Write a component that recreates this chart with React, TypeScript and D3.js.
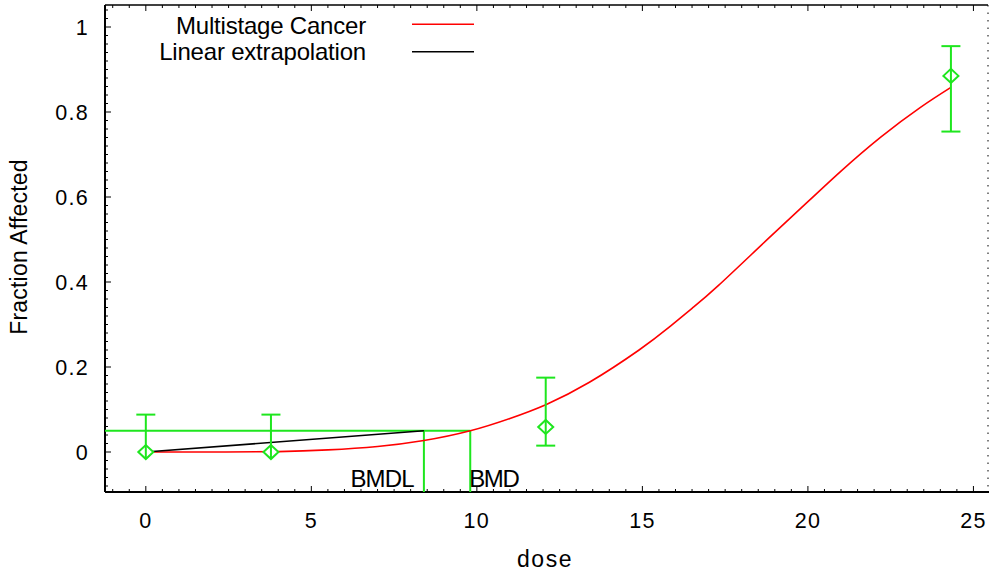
import React from "react";
import * as d3 from "d3";

// Observed data (dose, fraction affected, error bar bounds)
const doses = [0, 3.78, 12.08, 24.32];
const fractions = [0.0, 0.0, 0.059, 0.885];
const lowerBounds = [0.0, 0.0, 0.015, 0.754];
const upperBounds = [0.088, 0.088, 0.175, 0.955];

// Fitted multistage curve
const curveDose = [0, 2, 4, 5.5, 7, 8.4, 9.8, 11, 12.1, 13.4, 14.9, 15.8, 16.5, 17.3, 18.8, 20, 21, 22.2, 23.4, 24.32];
const curveFrac = [0.0, 0.0, 0.001, 0.005, 0.013, 0.027, 0.05, 0.079, 0.112, 0.164, 0.24, 0.293, 0.338, 0.392, 0.502, 0.589, 0.661, 0.741, 0.811, 0.858];

// Linear extrapolation
const linDose = [0, 8.4];
const linFrac = [0.0, 0.05];

const BMR = 0.05;
const BMDL = 8.4;
const BMD = 9.8;

const xTicks = [0, 5, 10, 15, 20, 25];
const yTicks = [0, 0.2, 0.4, 0.6, 0.8, 1];
const legendLabels = ["Multistage Cancer", "Linear extrapolation"];

const W = 989;
const H = 573;
const L = 105, R = 988, T = 5, B = 492;
const FONT = "'Liberation Sans', Arial, sans-serif";
const GREEN = "#1ee61e";

export default function App() {
  const x = d3.scaleLinear().domain([-1.233, 25.44]).range([L, R]);
  const y = d3.scaleLinear().domain([-0.0941, 1.0518]).range([B, T]);

  const line = d3.line<[number, number]>().x((d) => x(d[0])).y((d) => y(d[1])).curve(d3.curveNatural);
  const curvePts: [number, number][] = curveDose.map((d, i) => [d, curveFrac[i]]);
  const linPts: [number, number][] = linDose.map((d, i) => [d, linFrac[i]]);

  const xMinor = d3.range(-1, 25.5, 0.5);
  const yMinor = d3.range(-0.08, 1.05, 0.02);

  return (
    <svg width={W} height={H} style={{ position: "absolute", left: 0, top: 0, background: "#fff" }}>
      <rect x={0} y={0} width={W} height={H} fill="#fff" />
      {/* frame */}
      <line x1={L} y1={T} x2={R} y2={T} stroke="#000" strokeWidth={1.5} />
      <line x1={L} y1={B} x2={W} y2={B} stroke="#000" strokeWidth={2} />
      <line x1={L} y1={T} x2={L} y2={B} stroke="#000" strokeWidth={2} />
      <line x1={R} y1={T} x2={R} y2={B} stroke="#000" strokeWidth={1} strokeDasharray="1.5,6" />

      {/* x ticks bottom & top */}
      {xMinor.map((v, i) => {
        const major = Math.abs(v - Math.round(v / 5) * 5) < 1e-6;
        const len = major ? 6 : 3;
        return (
          <g key={"xm" + i}>
            <line x1={x(v)} x2={x(v)} y1={B} y2={B - len} stroke="#000" strokeWidth={1} />
            <line x1={x(v)} x2={x(v)} y1={T} y2={T + len} stroke="#000" strokeWidth={1} />
          </g>
        );
      })}
      {/* y ticks */}
      {yMinor.map((v, i) => {
        const major = Math.abs(v - Math.round(v / 0.2) * 0.2) < 1e-6;
        const len = major ? 6 : 3;
        return <line key={"ym" + i} x1={L} x2={L + len} y1={y(v)} y2={y(v)} stroke="#000" strokeWidth={1} />;
      })}

      {/* tick labels */}
      {xTicks.map((v) => (
        <text key={"xt" + v} x={x(v)} y={528} textAnchor="middle" fontFamily={FONT} fontSize={21.5} letterSpacing={1.3} fill="#000">
          {v}
        </text>
      ))}
      {yTicks.map((v) => (
        <text key={"yt" + v} x={89} y={y(v) + 7.5} textAnchor="end" fontFamily={FONT} fontSize={21.5} letterSpacing={1.3} fill="#000">
          {v}
        </text>
      ))}

      {/* axis titles */}
      <text x={545} y={567} textAnchor="middle" fontFamily={FONT} fontSize={23} letterSpacing={1.5} fill="#000">
        dose
      </text>
      <text transform={`translate(27,247) rotate(-90)`} textAnchor="middle" fontFamily={FONT} fontSize={23} letterSpacing={0.2} fill="#000">
        Fraction Affected
      </text>

      {/* BMD lines */}
      <line x1={L} x2={x(BMD)} y1={y(BMR)} y2={y(BMR)} stroke={GREEN} strokeWidth={2} />
      <line x1={x(BMDL)} x2={x(BMDL)} y1={y(BMR)} y2={B} stroke={GREEN} strokeWidth={2} />
      <line x1={x(BMD)} x2={x(BMD)} y1={y(BMR)} y2={B} stroke={GREEN} strokeWidth={2} />
      <text x={x(BMDL) - 10} y={487} textAnchor="end" fontFamily={FONT} fontSize={24} letterSpacing={-0.8} fill="#000">
        BMDL
      </text>
      <text x={x(BMD) - 1} y={487} textAnchor="start" fontFamily={FONT} fontSize={24} letterSpacing={-1.4} fill="#000">
        BMD
      </text>

      {/* curves */}
      <path d={line(curvePts) || ""} fill="none" stroke="#ff0000" strokeWidth={1.6} />
      <path d={line(linPts) || ""} fill="none" stroke="#000" strokeWidth={1.6} />

      {/* data with error bars */}
      {doses.map((d, i) => {
        const cx = x(d);
        const cy = y(fractions[i]);
        const yt = y(upperBounds[i]);
        const yb = y(lowerBounds[i]);
        return (
          <g key={"pt" + i} stroke={GREEN} strokeWidth={2} fill="none">
            <line x1={cx} x2={cx} y1={yt} y2={yb} />
            <line x1={cx - 9.5} x2={cx + 9.5} y1={yt} y2={yt} />
            {lowerBounds[i] < fractions[i] && <line x1={cx - 9.5} x2={cx + 9.5} y1={yb} y2={yb} />}
            <path d={`M${cx - 7.5},${cy} L${cx},${cy - 7} L${cx + 7.5},${cy} L${cx},${cy + 7} Z`} fill="#fff" />
            <line x1={cx} x2={cx} y1={cy - 7} y2={cy + 7} />
          </g>
        );
      })}

      {/* legend */}
      {legendLabels.map((lab, i) => (
        <g key={"lg" + i}>
          <text x={366} y={[33.5, 60][i]} textAnchor="end" fontFamily={FONT} fontSize={24} letterSpacing={-0.2} fill="#000">
            {lab}
          </text>
          <line x1={412} x2={474} y1={[24.3, 51.7][i]} y2={[24.3, 51.7][i]} stroke={i === 0 ? "#ff0000" : "#000"} strokeWidth={1.6} />
        </g>
      ))}
    </svg>
  );
}
